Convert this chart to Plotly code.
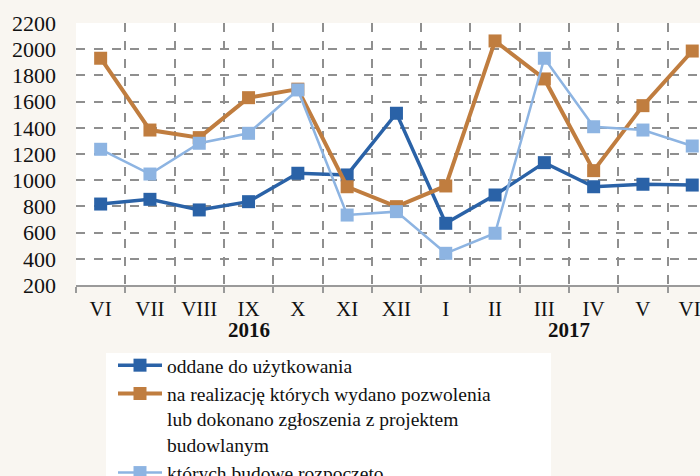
import plotly.graph_objects as go

months = ["VI", "VII", "VIII", "IX", "X", "XI", "XII", "I", "II", "III", "IV", "V", "VI "]
oddane = [818, 854, 773, 836, 1053, 1040, 1511, 671, 887, 1134, 950, 969, 963]
pozwolenia = [1931, 1383, 1325, 1630, 1695, 950, 798, 956, 2063, 1773, 1073, 1569, 1986]
rozpoczete = [1236, 1047, 1282, 1358, 1689, 734, 760, 442, 595, 1931, 1408, 1383, 1261]
years = ["2016", "2017"]
year_pos = [3, 9.5]

names = [
    "oddane do użytkowania",
    "na realizację których wydano pozwolenia<br>lub dokonano zgłoszenia z projektem<br>budowlanym",
    "których budowę rozpoczęto",
]
colors = ["#2a62a7", "#c07d3f", "#8db4e2"]
widths = [3.5, 4, 2.5]
series = [oddane, pozwolenia, rozpoczete]

FONT = "Liberation Serif"
BG = "#f9f6f1"

fig = go.Figure()
for nm, col, w, ys in zip(names, colors, widths, series):
    fig.add_trace(go.Scatter(
        x=months, y=ys, name=nm, mode="lines+markers",
        line=dict(color=col, width=w),
        marker=dict(symbol="square", size=13, color=col, line=dict(width=0)),
    ))

W, H = 700, 476
ml, mr, mt, mb = 76, 0, 23, 191
pw, ph = W - ml - mr, H - mt - mb

def px_x(p):
    return (p - ml) / pw

def px_y(p):
    return (H - mb - p) / ph

fig.add_shape(type="rect", xref="paper", yref="paper",
              x0=px_x(106), x1=px_x(551), y0=px_y(480), y1=px_y(353),
              fillcolor="white", line=dict(width=0), layer="above")

for yr, xp in zip(years, year_pos):
    fig.add_annotation(x=xp, y=px_y(330), xref="x", yref="paper", text="<b>" + yr + "</b>",
                       showarrow=False, font=dict(family=FONT, size=21, color="#111"),
                       yanchor="middle", xanchor="center")

fig.update_layout(
    width=W, height=H,
    margin=dict(l=ml, r=mr, t=mt, b=mb, pad=0, autoexpand=False),
    paper_bgcolor=BG, plot_bgcolor="white",
    font=dict(family=FONT, size=20, color="#111"),
    showlegend=True,
    legend=dict(x=px_x(113), y=px_y(346), xanchor="left", yanchor="top",
                bgcolor="rgba(0,0,0,0)", font=dict(family=FONT, size=19.5, color="#111"),
                valign="top", itemwidth=44, tracegroupgap=0),
    xaxis=dict(
        type="category",
        range=[-0.5, -0.5 + pw / 49.3],
        showgrid=True, gridcolor="#8f8f8f", griddash="dash", gridwidth=1.5,
        showline=True, linecolor="#9a9a9a", linewidth=2,
        ticks="outside", ticklen=6, tickcolor="#9a9a9a", tickwidth=1.5,
        tickson="boundaries", zeroline=False, ticklabelstandoff=4,
        tickfont=dict(family=FONT, size=21, color="#111"),
    ),
    yaxis=dict(
        range=[200, 2200], dtick=200, tick0=200,
        showgrid=True, gridcolor="#8f8f8f", griddash="dash", gridwidth=1.5,
        zeroline=False, showline=False, ticks="",
        ticklabelstandoff=19,
        tickfont=dict(family=FONT, size=22, color="#111"),
    ),
)

fig.write_html("out.html", config={"displayModeBar": False},
               post_script="document.body.style.margin='0';")
